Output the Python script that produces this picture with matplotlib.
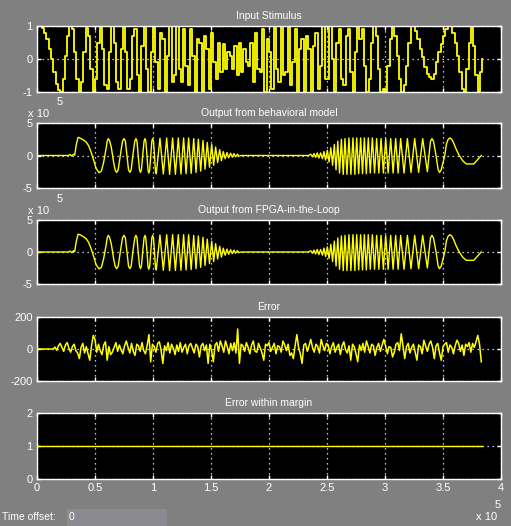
import matplotlib.pyplot as plt
import numpy as np

plt.rcParams['font.family'] = ['Liberation Sans', 'DejaVu Sans']
plt.rcParams['axes.unicode_minus'] = False

# time is in units of 1e5 (scope shows "x 10^5")
stim_ts = 0.02
stim_v = [1, 1, 0.95, 0.8, 0.6, 0.3, 0, -0.4, -0.75, -0.95,
          -1, -0.6, 0.1, 0.7, 1, 0.9, 0.2, -0.6, -1, -0.7,
          0.2, 0.95, 0.7, -0.3, -1, -0.6, 0.5, 1, 0.3, -0.8,
          -0.9, 0.2, 1, 0.5, -0.7, -0.9, 0.3, 1, 0.2, -0.9,
          -0.6, 0.7, 0.9, -0.5, -1, 0.4, 1, -0.3, -1, 0.2,
          1, -0.1, -0.9, 0.8, 0.6, -1, 0.1, 1, -0.7, -0.5,
          1, -0.3, -0.7, 0.9, -0.2, -0.8, 0.9, 0.1, -1, 0.6,
          0.5, -1, 0.7, 0.3, -0.9, 0.8, -0.1, -0.6, 0.5, -0.4,
          0.45, -0.3, 0.2, 0.1, -0.3, 0.4, -0.5, 0.5, -0.4, 0.3,
          -0.1, -0.2, 0.5, -0.7, 0.8, -0.3, -0.4, 0.9, -1, 0.6,
          0.2, -0.9, 1, -0.3, -0.7, 1, -0.5, -0.4, 1, -0.8,
          -0.1, 0.9, -1, 0.3, 0.6, -1, 0.7, 0.3, -1, 0.4,
          0.8, -0.9, -0.2, 1, -0.6, -0.6, 1, 0, -1, 0.5,
          0.9, -0.6, -0.8, 0.7, 0.9, -0.4, -1, 0.2, 1, 0.6,
          0.9, -0.2, -1, -0.6, 0.5, 1, 0.7, -0.3, -1, -0.9,
          -1, -0.2, 0.6, 1, 0.7, 0.1, -0.6, -1, -0.8, -0.2,
          0.5, 1, 1, 0.85, 0.6, 0.3, 0.05, -0.25, -0.45, -0.55,
          -0.6, -0.45, -0.1, 0.2, 0.45, 0.7, 0.9, 1, 1, 0.8,
          0.5, 0.1, -0.4, -0.9, -1, -0.3, 0.5, 1, 0.4, -0.5,
          -1, -0.4, 0]

# behavioral model output (values in units of 1e5)
beh_t = [0, 0.27, 0.285, 0.30, 0.315, 0.325, 0.338, 0.354, 0.375, 0.40,
         0.425, 0.445, 0.465, 0.49, 0.51, 0.535, 0.555, 0.575, 0.595, 0.605,
         0.615, 0.625, 0.64, 0.662, 0.675, 0.687, 0.70, 0.718, 0.737, 0.75,
         0.762, 0.775, 0.789, 0.80, 0.812, 0.826, 0.843, 0.853, 0.862, 0.872,
         0.884, 0.892, 0.900, 0.911, 0.923, 0.931, 0.938, 0.948, 0.957, 0.964,
         0.971, 0.981, 0.99, 0.997, 1.004, 1.013, 1.021, 1.028,
         1.060, 1.089, 1.118, 1.143, 1.169, 1.193, 1.218,
         1.241, 1.264, 1.285, 1.307, 1.329, 1.351, 1.371, 1.391, 1.411, 1.431,
         1.449, 1.468, 1.487, 1.506, 1.523, 1.540, 1.557, 1.575, 1.590, 1.606,
         1.622, 1.638, 1.653, 1.669, 1.683, 1.698, 1.712, 1.727, 1.741, 1.76,
         2.34, 2.36, 2.374, 2.388, 2.402, 2.416, 2.43, 2.445, 2.46, 2.474,
         2.488, 2.503, 2.518, 2.533, 2.548, 2.563, 2.578, 2.593, 2.608, 2.624,
         2.64, 2.655, 2.672, 2.689, 2.706, 2.724, 2.74, 2.756, 2.773, 2.790,
         2.806, 2.822, 2.839, 2.856, 2.873, 2.891, 2.91, 2.928, 2.947, 2.966,
         2.986, 3.006, 3.027, 3.049, 3.07, 3.092, 3.113, 3.135, 3.164, 3.193,
         3.224, 3.256, 3.29, 3.325, 3.365, 3.392, 3.405, 3.418, 3.44, 3.458,
         3.47, 3.485, 3.515, 3.53, 3.545, 3.56, 3.575, 3.59, 3.615, 3.64,
         3.67, 3.70, 3.765, 3.83]
beh_v = [0, 0, 0.15, -0.1, 0.2, 0.05, 1.6, 2.8, 2.65, 2.4,
         2.05, 1.5, 0.6, -0.8, -2.0, -2.65, -2.4, -1.0, 1.0, 2.2,
         2.6, 2.3, 1.3, -1.2, -2.3, -2.6, -2.2, 0, 2.2, 2.6,
         2.2, 0.1, -2.2, -2.6, -2.2, 0, 2.2, 2.6, 2.2, 0,
         -2.2, -2.6, -2.2, 0, 2.2, 2.6, 2.2, 0, -2.3, -2.7,
         -2.3, 0, 2.2, 2.6, 2.2, 0, -2.4, -2.8,
         2.65, -2.85, 2.7, -2.9, 2.7, -2.9, 2.7,
         -2.85, 2.7, -2.8, 2.7, -2.75, 2.6, -2.6, 2.5, -2.4, 2.3,
         -2.1, 2.0, -1.8, 1.7, -1.5, 1.3, -1.1, 0.9, -0.8, 0.6,
         -0.5, 0.45, -0.35, 0.35, -0.25, 0.3, -0.2, 0.2, -0.1, 0,
         0, 0.2, -0.2, 0.3, -0.3, 0.4, -0.4, 0.4, -0.5, 0.6,
         -0.7, 0.8, -1.0, 1.2, -1.5, 1.7, -2.2, 2.2, -2.7, 2.5,
         -2.9, 2.6, -2.9, 2.7, -2.9, 2.7, -2.9, 2.7, -2.8, 2.7,
         -2.8, 2.7, -2.8, 2.7, -2.7, 2.7, -2.7, 2.6, -2.7, 2.6,
         -2.7, 2.6, -2.7, 2.6, -2.7, 2.6, -2.7, 2.6, -2.7, 2.6,
         -2.6, 2.6, -2.6, 2.6, -2.5, 2.2, 2.6, 2.2, 0, -2.2,
         -2.6, -2.2, 0, 1.8, 2.5, 2.7, 2.5, 2.0, 0.9, 0,
         -0.8, -1.3, -1.3, 0]

# FPGA-in-the-loop output matches the model at this scale
fpga_t = beh_t
fpga_v = beh_v

err_t0 = 0.14
err_ts = 0.015
err_v = [0, 12, -8, 20, 35, 10, -15, 25, 40, 5,
         -20, 15, 30, -10, -25, -60, 10, 35, -25, 15,
         -30, -70, 20, 85, 60, -20, 30, -10, -35, 25,
         45, -70, 15, -35, -20, 10, 40, -15, 25, -5,
         -30, 20, 50, 10, -25, 35, -15, -40, 30, 20,
         -15, 40, -10, -30, 25, 90, -80, 30, 15, -20,
         35, 45, -10, -90, 20, -10, 40, -25, 30, 5,
         -35, 25, -15, 40, -20, 10, 30, -30, 20, 35,
         5, -25, 30, 15, -50, 20, 35, -10, 25, -90,
         30, -10, -80, 25, 40, -15, 50, 20, -20, 50,
         15, -30, 35, -10, 40, -25, 125, -90, 30, 20,
         -15, 40, 10, -30, 25, 50, -15, -20, 35, 5,
         -25, -70, 30, 20, 40, -15, 10, 35, -30, 20,
         15, -20, 50, 25, -10, 30, -40, -25, -60, 20,
         90, 10, -30, -90, 25, 35, -15, 20, 60, 10,
         -20, 30, 15, -25, 60, 20, -10, 35, 25, -30,
         15, 40, -20, 10, 30, -35, 20, 45, -5, -25,
         20, -70, 30, 15, -30, -80, 25, -10, 35, -20,
         50, 15, -25, 30, 20, -40, 10, 35, -15, 25,
         60, 20, -30, 15, 10, -50, -20, 30, 40, -10,
         95, 20, -60, 15, 35, -25, 10, 30, -20, -70,
         25, 15, -30, 55, 20, -15, 30, 50, 10, -60,
         20, 35, -25, -70, 15, 30, 40, -20, 25, 10,
         -30, 20, 55, 35, -15, 25, -40, 30, 15, 40,
         -20, 35, 10, 45, 85, 30, -80]

margin_t = [0, 3.84]
margin_v = [1, 1]

titles = ['Input Stimulus', 'Output from behavioral model',
          'Output from FPGA-in-the-Loop', 'Error', 'Error within margin']
ylims = [(-1, 1), (-5, 5), (-5, 5), (-200, 200), (0, 2)]
yticks = [[-1, 0, 1], [-5, 0, 5], [-5, 0, 5], [-200, 0, 200], [0, 1, 2]]
xticks = [0, 0.5, 1, 1.5, 2, 2.5, 3, 3.5, 4]
xlabels = ['0', '0.5', '1', '1.5', '2', '2.5', '3', '3.5', '4']

W, H = 511, 526
gray = '#808080'
fig = plt.figure(figsize=(W / 100, H / 100), dpi=100, facecolor=gray)

# panel pixel boxes (top, bottom)
boxes = [(26, 92), (123, 188), (220, 284), (317, 381), (413, 479)]
left, right = 37, 501

axes = []
for i, (top, bot) in enumerate(boxes):
    ax = fig.add_axes([left / W, 1 - bot / H, (right - left) / W, (bot - top) / H])
    ax.set_facecolor('black')
    ax.set_xlim(0, 4)
    ax.set_ylim(*ylims[i])
    ax.set_xticks(xticks)
    ax.set_yticks(yticks[i])
    ax.set_yticklabels([str(v) for v in yticks[i]])
    if i == 4:
        ax.set_xticklabels(xlabels)
    else:
        ax.set_xticklabels([])
    for s in ax.spines.values():
        s.set_color('white')
        s.set_linewidth(1)
    ax.tick_params(colors='white', direction='in', length=3, width=1,
                   top=True, right=True, labelsize=8, pad=3)
    ax.grid(True, color='white', linestyle=(0, (1, 3)), linewidth=0.9)
    ax.set_axisbelow(True)
    ax.set_title(titles[i], color='white', fontsize=7.5, pad=5)
    axes.append(ax)

yel = '#ffff00'
stim_t = np.arange(len(stim_v)) * stim_ts
axes[0].step(stim_t, stim_v, where='post', color=yel, lw=1.3)
axes[1].plot(beh_t, beh_v, color=yel, lw=1.0)
axes[2].plot(fpga_t, fpga_v, color=yel, lw=1.0)
err_t = np.concatenate([[0], err_t0 + np.arange(len(err_v)) * err_ts])
axes[3].plot(err_t, [0] + err_v, color=yel, lw=1.1)
axes[4].plot(margin_t, margin_v, color=yel, lw=1)


def ftext(x, y, s, **kw):
    fig.text(x / W, 1 - y / H, s, color='white', **kw)


# y exponent labels
ftext(28, 117, 'x 10', fontsize=8)
ftext(57, 105, '5', fontsize=8)
ftext(28, 214, 'x 10', fontsize=8)
ftext(57, 202, '5', fontsize=8)
# x exponent label
ftext(476, 520, 'x 10', fontsize=8)
ftext(495, 508, '5', fontsize=8)

# time offset field
ftext(2, 520, 'Time offset:', fontsize=7.5)
fig.patches.append(plt.Rectangle((67 / W, 0), 100 / W, 17 / H,
                                 transform=fig.transFigure,
                                 facecolor='#8b8a90', edgecolor='none'))
ftext(69, 520, '0', fontsize=7.5)

fig.savefig('out.png', dpi=100, facecolor=gray)
